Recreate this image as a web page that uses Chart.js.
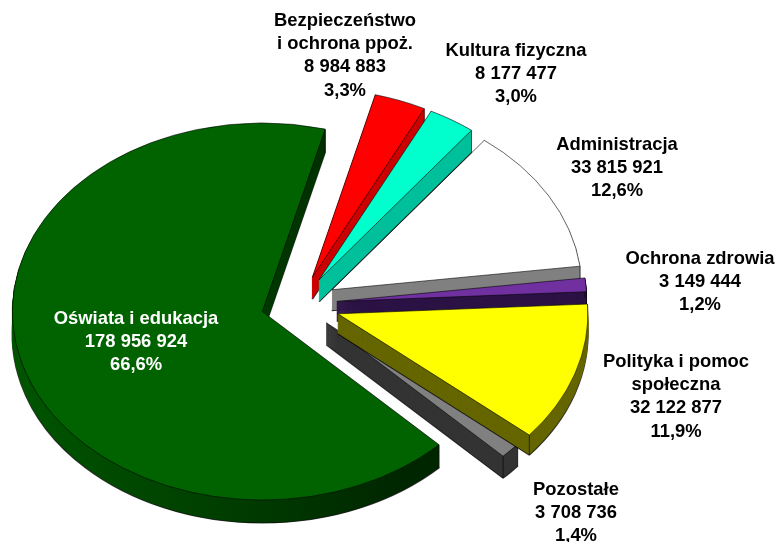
<!DOCTYPE html>
<html><head><meta charset="utf-8">
<style>html,body{margin:0;padding:0;background:#fff}#w{width:777px;height:542px}</style>
<script src="https://cdn.jsdelivr.net/npm/chart.js@4"></script></head>
<body><div id="w"><canvas id="c" width="777" height="542"></canvas></div>
<script>
const categories=["Oświata i edukacja","Bezpieczeństwo\ni ochrona ppoż.","Kultura fizyczna","Administracja","Ochrona zdrowia","Polityka i pomoc\nspołeczna","Pozostałe"];
const values=[178956924,8984883,8177477,33815921,3149444,32122877,3708736];
const valueLabels=["178 956 924","8 984 883","8 177 477","33 815 921","3 149 444","32 122 877","3 708 736"];
const percentLabels=["66,6%","3,3%","3,0%","12,6%","1,2%","11,9%","1,4%"];
const topColors=["#006300","#ff0000","#00ffcc","#ffffff","#7030a0","#ffff00","#808080"];
const sideColors=["#003800","#cc0000","#00c09c","#808080","#2c1245","#666600","#333333"];
const textColors=["#ffffff","#000000","#000000","#000000","#000000","#000000","#000000"];
const labelCenters=[[136,319],[345,21],[516,51],[617,145],[700,259],[676,362],[576,490]];
const paintOrder=[3,4,6,5,1,2,0];
const explodes=[38,38,38,38,38,41,37];
const depths=[23,22,22,21,20,20,22];
const K=0.754,LINE=23.2;
const FONT='bold 18.4px "Liberation Sans", Arial, sans-serif';

function place(ctx,el,d,ex){
  const mid=(el.startAngle+el.endAngle)/2;
  ctx.translate(el.x,el.y+d);
  ctx.scale(1,K);
  ctx.translate(-el.x,-el.y);
  ctx.translate(Math.cos(mid)*ex,Math.sin(mid)*ex);
}
function drawWith(ctx,el,over){
  const o=el.options;
  el.options=Object.assign(Object.create(o),over);
  el.draw(ctx);
  el.options=o;
}
const pie3d={id:'pie3d',
  beforeDatasetsDraw(chart){
    const ctx=chart.ctx,els=chart.getDatasetMeta(0).data;
    paintOrder.forEach(i=>{
      const el=els[i],ex=explodes[i],D=depths[i];
      const R=el.outerRadius,mid=(el.startAngle+el.endAngle)/2;
      let side=sideColors[i];
      if(i===0){
        const g=ctx.createLinearGradient(0,0,440,0);
        g.addColorStop(0,"#005a00");g.addColorStop(0.55,"#004000");g.addColorStop(1,"#002600");
        side=g;
      }
      ctx.save();place(ctx,el,D,ex);
      drawWith(ctx,el,{backgroundColor:side,borderWidth:1.6,borderColor:"rgba(0,0,0,.75)"});
      ctx.restore();
      for(let d=D-1;d>0;d--){
        ctx.save();place(ctx,el,d,ex);
        drawWith(ctx,el,{backgroundColor:side,borderWidth:1,borderColor:side});
        ctx.restore();
      }
      const ox=el.x+Math.cos(mid)*ex,oy=el.y+Math.sin(mid)*ex*K;
      ctx.save();ctx.strokeStyle="rgba(0,0,0,.75)";ctx.lineWidth=0.8;ctx.beginPath();
      [[ox+R*Math.cos(el.startAngle),oy+R*Math.sin(el.startAngle)*K],[ox+R*Math.cos(el.endAngle),oy+R*Math.sin(el.endAngle)*K]].forEach(p=>{
        ctx.moveTo(p[0],p[1]);ctx.lineTo(p[0],p[1]+D);
      });
      ctx.stroke();ctx.restore();
      ctx.save();place(ctx,el,0,ex);
      drawWith(ctx,el,{backgroundColor:topColors[i],borderWidth:0.9,borderColor:"rgba(0,0,0,.75)"});
      ctx.restore();
    });
    ctx.save();
    ctx.font=FONT;ctx.textAlign="center";ctx.textBaseline="middle";
    categories.forEach((c,i)=>{
      const lines=c.split("\n").concat([valueLabels[i],percentLabels[i]]);
      ctx.fillStyle=textColors[i];
      lines.forEach((t,j)=>ctx.fillText(t,labelCenters[i][0],labelCenters[i][1]+j*LINE));
    });
    ctx.restore();
    return false;
  }
};
new Chart(document.getElementById('c'),{
  type:'pie',
  data:{labels:categories,datasets:[{data:values,backgroundColor:topColors,borderWidth:0}]},
  options:{responsive:false,animation:false,rotation:135,radius:250,
    layout:{padding:{top:66,bottom:0,left:0,right:179}},
    plugins:{legend:{display:false},tooltip:{enabled:false}}},
  plugins:[pie3d]
});
</script></body></html>
